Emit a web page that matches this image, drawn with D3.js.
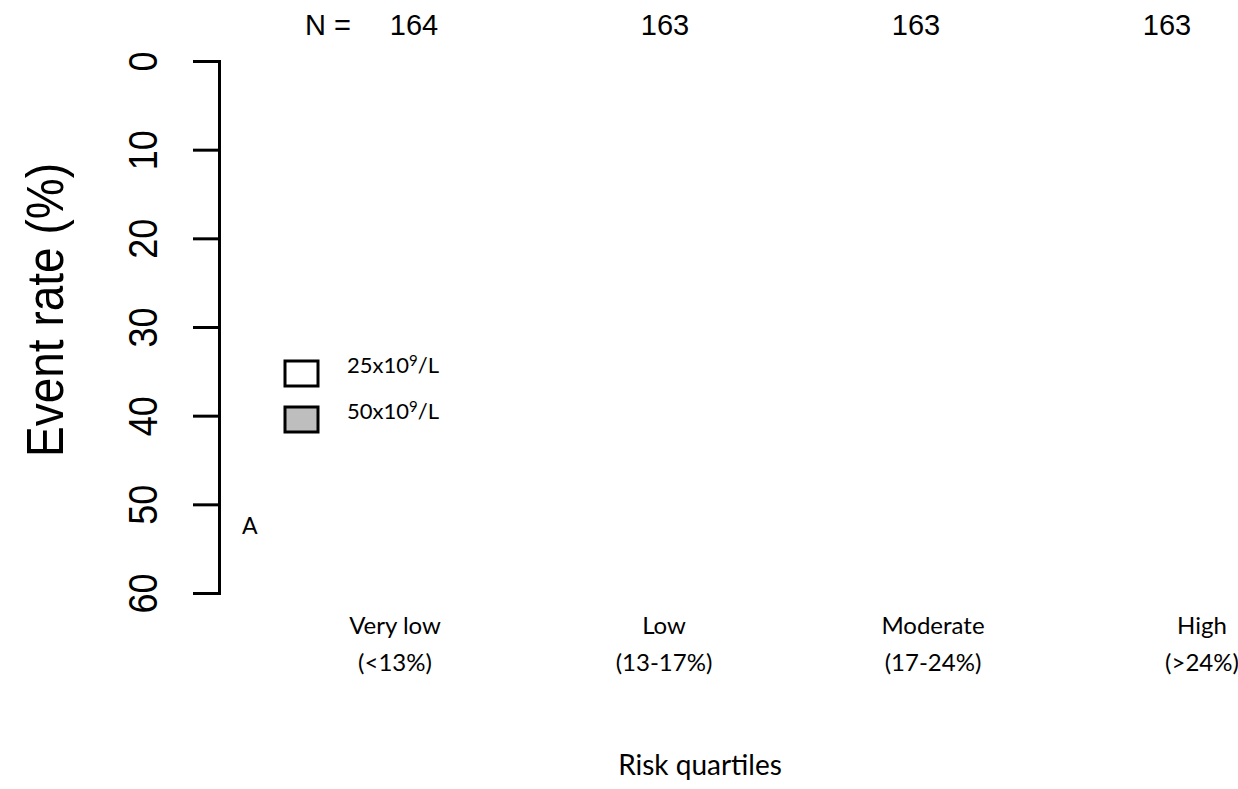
<!DOCTYPE html>
<html>
<head>
<meta charset="utf-8">
<script src="https://cdn.jsdelivr.net/npm/d3@7"></script>
<style>
  body { margin: 0; background: #fff; }
  svg { display: block; }
</style>
</head>
<body>
<div id="chart-container"></div>
<script>
// chart data
const categories = ["Very low", "Low", "Moderate", "High"];
const categoryRanges = ["(<13%)", "(13-17%)", "(17-24%)", "(>24%)"];
const nValues = [164, 163, 163, 163];
const yTicks = [0, 10, 20, 30, 40, 50, 60];
const seriesLabels = ["25x10^9/L", "50x10^9/L"];
const seriesFills = ["#ffffff", "#bebebe"];

const w = 1238, h = 789;
const arial = "'Liberation Sans', Arial, sans-serif";
const calibri = "Lato, 'Open Sans', sans-serif";

const svg = d3.select('#chart-container')
  .append('svg')
  .attr('width', w)
  .attr('height', h)
  .style('background-color', '#fff');

// y axis runs downward, 0 at top
const yScale = d3.scaleLinear()
  .domain([0, 60])
  .range([61, 593]);

const xScale = d3.scalePoint()
  .domain(categories)
  .range([414, 1167]);

const labelScale = d3.scalePoint()
  .domain(categories)
  .range([395, 1202]);

const yAxis = d3.axisLeft(yScale)
  .tickValues(yTicks)
  .tickSize(26)
  .tickSizeOuter(26)
  .tickPadding(0);

const gy = svg.append('g')
  .attr('id', 'y-axis')
  .attr('transform', 'translate(219,0)')
  .call(yAxis);

gy.selectAll('path, line')
  .attr('stroke', '#000')
  .attr('stroke-width', 3);

gy.selectAll('text')
  .attr('x', 0)
  .attr('dy', 0)
  .attr('transform', 'translate(-62,0) scale(1.15,1) rotate(-90)')
  .attr('text-anchor', 'middle')
  .style('font-family', arial)
  .style('font-size', '36px')
  .attr('fill', '#000');

// y title
svg.append('text')
  .attr('transform', 'translate(63,310) scale(1.12,1) rotate(-90)')
  .attr('text-anchor', 'middle')
  .style('font-family', arial)
  .style('font-size', '46px')
  .text('Event rate (%)');

// N row
svg.append('text')
  .attr('x', 305)
  .attr('y', 35)
  .style('font-family', arial)
  .style('font-size', '29px')
  .text('N =');

svg.selectAll('.n-label')
  .data(nValues)
  .enter()
  .append('text')
  .attr('class', 'n-label')
  .attr('x', (d, i) => xScale(categories[i]))
  .attr('y', 35)
  .attr('text-anchor', 'middle')
  .style('font-family', arial)
  .style('font-size', '29px')
  .text(d => d);

// category labels
svg.selectAll('.cat-label')
  .data(categories)
  .enter()
  .append('text')
  .attr('class', 'cat-label')
  .attr('x', d => labelScale(d))
  .attr('y', 634)
  .attr('text-anchor', 'middle')
  .style('font-family', calibri)
  .style('font-size', '24px')
  .text(d => d);

svg.selectAll('.cat-range')
  .data(categoryRanges)
  .enter()
  .append('text')
  .attr('class', 'cat-range')
  .attr('x', (d, i) => labelScale(categories[i]))
  .attr('y', 671)
  .attr('text-anchor', 'middle')
  .style('font-family', calibri)
  .style('font-size', '24px')
  .text(d => d);

svg.append('text')
  .attr('x', 700)
  .attr('y', 775)
  .attr('text-anchor', 'middle')
  .style('font-family', calibri)
  .style('font-size', '28px')
  .text('Risk quartiles');

// panel letter
svg.append('text')
  .attr('x', 242)
  .attr('y', 534)
  .style('font-family', calibri)
  .style('font-size', '23px')
  .text('A');

// legend
const legend = svg.append('g')
  .attr('transform', 'translate(285,361)');

const item = legend.selectAll('g')
  .data(seriesLabels)
  .enter()
  .append('g')
  .attr('transform', (d, i) => `translate(0, ${i * 46})`);

item.append('rect')
  .attr('width', 33)
  .attr('height', 25)
  .attr('fill', (d, i) => seriesFills[i])
  .attr('stroke', '#000')
  .attr('stroke-width', 3);

item.each(function(d) {
  const [pre, rest] = d.split('^');
  const t = d3.select(this).append('text')
    .attr('x', 62)
    .attr('y', 12)
    .style('font-family', calibri)
    .style('font-size', '22px');
  t.append('tspan').text(pre);
  t.append('tspan').attr('dy', -7).style('font-size', '15px').text(rest[0]);
  t.append('tspan').attr('dy', 7).text(rest.slice(1));
});
</script>
</body>
</html>
